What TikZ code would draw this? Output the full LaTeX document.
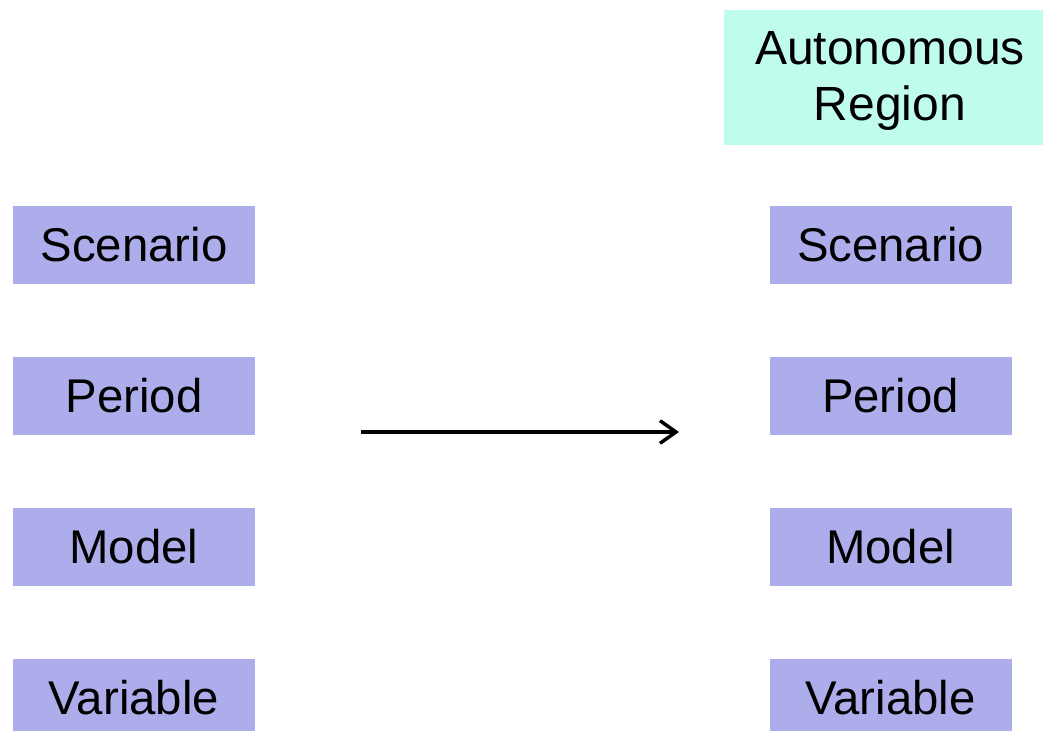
\documentclass[tikz,border=0pt]{standalone}
\usepackage{fontspec}
\setmainfont{Liberation Sans}
\usetikzlibrary{arrows.meta}
\definecolor{boxpurple}{HTML}{ADADEB}
\definecolor{boxcyan}{HTML}{C0FCEE}
\tikzset{
  item/.style={fill=boxpurple, minimum width=242*0.75pt, minimum height=78*0.75pt, inner sep=0pt, font=\fontsize{35.5}{40}\selectfont},
  region/.style={fill=boxcyan, minimum width=334*0.75pt, minimum height=135*0.75pt, inner sep=0pt, align=center, font=\fontsize{36}{42}\selectfont},
  flow/.style={line width=2.4pt, -{Straight Barb[length=12pt,width=17pt,line width=2.6pt]}}
}
\begin{document}
\begin{tikzpicture}[x=0.75pt,y=-0.75pt]
\useasboundingbox (0,0) rectangle (1043,731);
\node[item] (s1) at (134,245) {Scenario};
\node[item] (p1) at (134,396) {Period};
\node[item] (m1) at (134,547) {Model};
\node[item] (v1) at (134,698) {Variable};
\node[item] (s2) at (890.5,245) {Scenario};
\node[item] (p2) at (890.5,396) {Period};
\node[item] (m2) at (890.5,547) {Model};
\node[item] (v2) at (890.5,698) {Variable};
\node[fill=boxcyan, minimum width=334*0.75pt, minimum height=135*0.75pt] (ar) at (891,77.5) {};
\node[align=center, font=\fontsize{36}{42}\selectfont, inner sep=0pt] (art) at (890,81) {Autonomous\\Region};
\coordinate (a0) at (361,432);
\coordinate (a1) at (679,432);
\draw[flow] (a0) -- (a1);
\end{tikzpicture}
\end{document}
